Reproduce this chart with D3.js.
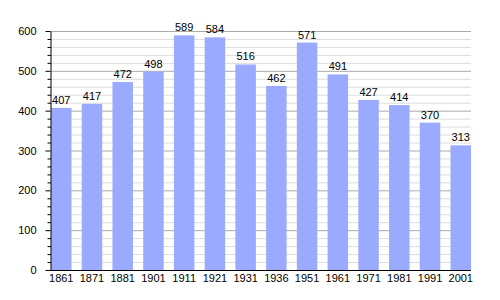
<!DOCTYPE html>
<html><head><meta charset="utf-8">
<script src="https://cdn.jsdelivr.net/npm/d3@7"></script>
<style>body{margin:0;background:#fff}svg{display:block}</style>
</head><body>
<script>
const years = ["1861","1871","1881","1901","1911","1921","1931","1936","1951","1961","1971","1981","1991","2001"];
const population = [407,417,472,498,589,584,516,462,571,491,427,414,370,313];
const yTicks = [0,100,200,300,400,500,600];

const W=500,H=300;
const m={left:51,right:29,top:31,bottom:30};
const svg=d3.select("body").append("svg").attr("width",W).attr("height",H)
  .style("font-family","'Liberation Sans', Arial, sans-serif").style("font-size","11px");
const x=d3.scaleBand().domain(years).range([m.left,W-m.right]).paddingInner(1/3).paddingOuter(0);
const y=d3.scaleLinear().domain([0,600]).range([H-m.bottom,m.top]);

// minor grid
const minor=d3.range(20,601,20).filter(v=>v%100!==0);
svg.append("g").selectAll("line").data(minor).join("line")
  .attr("x1",m.left).attr("x2",W-m.right).attr("y1",d=>y(d)+0.5).attr("y2",d=>y(d)+0.5)
  .attr("stroke","#dddddd").attr("stroke-width",1);
svg.append("g").selectAll("line").data(yTicks.filter(v=>v>0)).join("line")
  .attr("x1",m.left).attr("x2",W-m.right).attr("y1",d=>y(d)+0.5).attr("y2",d=>y(d)+0.5)
  .attr("stroke","#aaaaaa").attr("stroke-width",1);

// bars
svg.append("g").selectAll("rect").data(population).join("rect")
  .attr("x",(d,i)=>x(years[i])).attr("width",x.bandwidth())
  .attr("y",d=>y(d)).attr("height",d=>y(0)-y(d)).attr("fill","#99aaff");

// value labels
svg.append("g").selectAll("text").data(population).join("text")
  .attr("x",(d,i)=>x(years[i])+x.bandwidth()/2).attr("y",d=>y(d)-4)
  .attr("text-anchor","middle").attr("fill","#000").text(d=>d);

// y axis
const ya=svg.append("g").attr("transform",`translate(${m.left-0.5},0)`)
  .call(d3.axisLeft(y).tickValues(yTicks).tickSize(5).tickPadding(9).tickSizeOuter(0));
ya.select(".domain").attr("stroke","#000");
ya.selectAll("text").style("font-size","11px").style("font-family","'Liberation Sans', Arial, sans-serif");
svg.append("g").selectAll("line").data(minor).join("line")
  .attr("x1",m.left-3.5).attr("x2",m.left).attr("y1",d=>y(d)+0.5).attr("y2",d=>y(d)+0.5)
  .attr("stroke","#000");

// x axis
const xa=svg.append("g").attr("transform",`translate(0,${H-m.bottom+0.5})`)
  .call(d3.axisBottom(x).tickSize(0).tickPadding(4));
xa.select(".domain").attr("stroke","#000").attr("d",`M${m.left-1},0H${W-m.right}`);
xa.selectAll("text").style("font-size","11px").style("font-family","'Liberation Sans', Arial, sans-serif");
</script>
</body></html>
